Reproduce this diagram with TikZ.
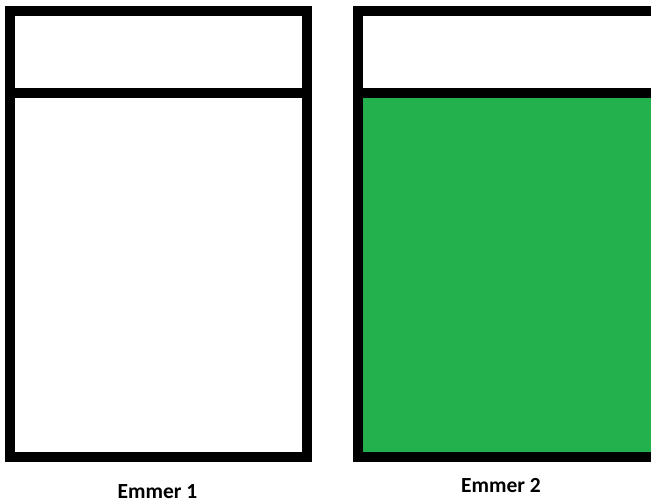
\documentclass[tikz,border=0pt]{standalone}
\usepackage{fontspec}
\setmainfont{Carlito}
\usetikzlibrary{positioning, calc}
\usepackage{xcolor}
\definecolor{BucketBlack}{HTML}{000000}
\definecolor{BucketWhite}{HTML}{ffffff}
\definecolor{WaterGreen}{HTML}{22B14C}
\tikzset{
    % Bucket styles - sharp corners, thick border
    bucket/.style={
        rectangle,
        draw=BucketBlack,
        line width=10pt,
        inner sep=0pt,
        minimum height=446.5pt
    },
    rimline/.style={
        draw=BucketBlack,
        line width=10pt
    },
    water/.style={
        fill=WaterGreen
    },
    bucketlabel/.style={
        anchor=base,
        inner sep=0pt,
        font=\fontsize{21.5}{24}\selectfont\bfseries
    }
}
\begin{document}
\begin{tikzpicture}[x=1pt, y=-1pt]
    \useasboundingbox (0,0) rectangle (651,502);
    \clip (0,0) rectangle (651,502);

    \fill[water] (363,98) rectangle (660,452);

    \node[bucket, minimum width=297pt] (emmer1) at (158.5,234.25) {};
    \node[bucket, minimum width=298pt] (emmer2) at (507,234.25) {};

    \draw[rimline] (emmer1.west |- 0,93) -- (emmer1.east |- 0,93);
    \draw[rimline] (emmer2.west |- 0,93) -- (emmer2.east |- 0,93);

    \node[bucketlabel] (label1) at (157.5,498.5) {Emmer 1};
    \node[bucketlabel] (label2) at (501,493) {Emmer 2};
\end{tikzpicture}
\end{document}
